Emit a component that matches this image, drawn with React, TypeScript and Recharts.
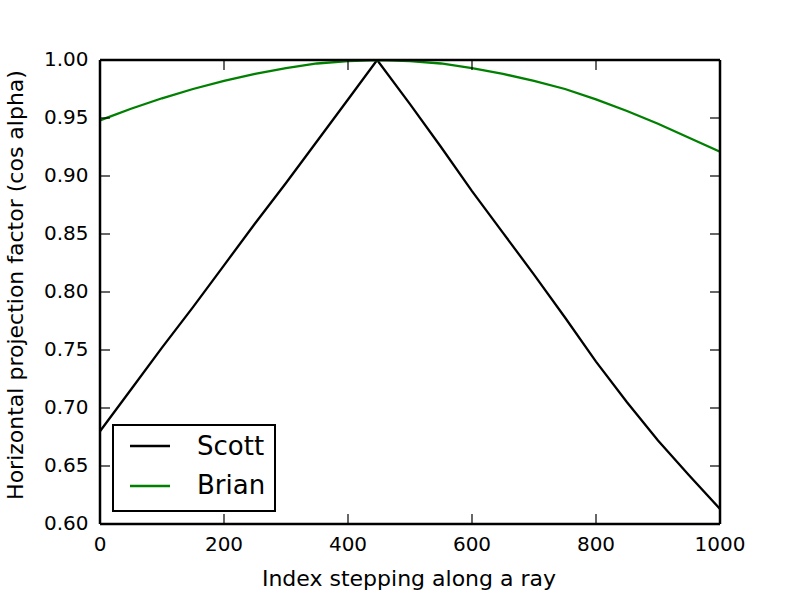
import React from "react";
import { LineChart, Line, XAxis, YAxis, Legend, Label } from "recharts";

const scottX = [0, 50, 100, 150, 200, 250, 300, 350, 400, 447, 500, 550, 600, 650, 700, 750, 800, 850, 900, 950, 1000];
const scottY = [0.68, 0.716, 0.752, 0.787, 0.823, 0.859, 0.894, 0.93, 0.966, 1.0, 0.962, 0.925, 0.887, 0.851, 0.815, 0.778, 0.74, 0.705, 0.672, 0.642, 0.613];

const brianX = [0, 50, 100, 150, 200, 250, 300, 350, 400, 450, 500, 550, 600, 650, 700, 750, 800, 850, 900, 950, 1000];
const brianY = [0.948, 0.958, 0.967, 0.975, 0.982, 0.988, 0.993, 0.997, 0.999, 1.0, 0.999, 0.997, 0.993, 0.988, 0.982, 0.975, 0.966, 0.956, 0.945, 0.933, 0.921];

const seriesOrder = ["Scott", "Brian"];
const xTicks = [0, 200, 400, 600, 800, 1000];
const yTicks = [0.6, 0.65, 0.7, 0.75, 0.8, 0.85, 0.9, 0.95, 1.0];

const scottData = scottX.map((x, i) => ({ x, y: scottY[i] }));
const brianData = brianX.map((x, i) => ({ x, y: brianY[i] }));

const FONT = "DejaVu Sans";
const TICK_LEN = 10;

const BottomTick = (props: any) => {
  const { x, y, payload } = props;
  return (
    <g>
      <line x1={x} x2={x} y1={y} y2={y - TICK_LEN} stroke="#000" strokeWidth={1.2} />
      <text x={x} y={y + 27} textAnchor="middle" fontSize={20} fontFamily={FONT} fill="#000">
        {payload.value}
      </text>
    </g>
  );
};

const TopTick = (props: any) => {
  const { x, y } = props;
  return <line x1={x} x2={x} y1={y} y2={y + TICK_LEN} stroke="#000" strokeWidth={1.2} />;
};

const LeftTick = (props: any) => {
  const { x, y, payload } = props;
  return (
    <g>
      <line x1={x} x2={x + TICK_LEN} y1={y} y2={y} stroke="#000" strokeWidth={1.2} />
      <text x={x - 11.5} y={y + 6} textAnchor="end" fontSize={20} fontFamily={FONT} fill="#000">
        {Number(payload.value).toFixed(2)}
      </text>
    </g>
  );
};

const RightTick = (props: any) => {
  const { x, y } = props;
  return <line x1={x} x2={x - TICK_LEN} y1={y} y2={y} stroke="#000" strokeWidth={1.2} />;
};

const LegendBox = (props: any) => {
  const payload = [...(props.payload || [])]
    .filter((e: any) => seriesOrder.includes(e.value))
    .sort((a: any, b: any) => seriesOrder.indexOf(a.value) - seriesOrder.indexOf(b.value));
  return (
    <svg width={164} height={88} style={{ display: "block" }}>
      <rect x={1} y={1} width={162} height={86} fill="#fff" stroke="#000" strokeWidth={2} />
      {payload.map((entry: any, i: number) => (
        <g key={i}>
          <line x1={18} x2={58} y1={22 + i * 40} y2={22 + i * 40} stroke={entry.color} strokeWidth={2.3} />
          <text x={85} y={31 + i * 39} fontSize={26} fontFamily={FONT} fill="#000">
            {entry.value}
          </text>
        </g>
      ))}
    </svg>
  );
};

export default function App() {
  return (
    <div style={{ position: "absolute", left: 0, top: 0, width: 800, height: 600, background: "#fff" }}>
      <LineChart width={800} height={600} margin={{ top: 59, right: 79, bottom: 0, left: 0 }}>
        <XAxis
          xAxisId={0}
          dataKey="x"
          type="number"
          domain={[0, 1000]}
          ticks={xTicks}
          interval={0}
          allowDataOverflow
          height={76}
          tickSize={0}
          tickMargin={0}
          tickLine={false}
          axisLine={{ stroke: "#000", strokeWidth: 2.5 }}
          tick={<BottomTick />}
        >
          <Label
            content={(p: any) => {
              const vb = p.viewBox;
              return (
                <text x={vb.x + vb.width / 2 - 1} y={vb.y + 62} textAnchor="middle" fontSize={22} fontFamily={FONT} fill="#000">
                  Index stepping along a ray
                </text>
              );
            }}
          />
        </XAxis>
        <XAxis
          xAxisId="top"
          orientation="top"
          dataKey="x"
          type="number"
          domain={[0, 1000]}
          ticks={xTicks}
          interval={0}
          allowDataOverflow
          height={1}
          tickSize={0}
          tickMargin={0}
          tickLine={false}
          axisLine={{ stroke: "#000", strokeWidth: 2.5 }}
          tick={<TopTick />}
        />
        <YAxis
          yAxisId={0}
          type="number"
          domain={[0.6, 1.0]}
          ticks={yTicks}
          interval={0}
          allowDataOverflow
          width={100}
          tickSize={0}
          tickMargin={0}
          tickLine={false}
          axisLine={{ stroke: "#000", strokeWidth: 2.5 }}
          tick={<LeftTick />}
        >
          <Label
            content={(p: any) => {
              const vb = p.viewBox;
              const cx = vb.x + 23;
              const cy = vb.y + vb.height / 2 - 7;
              return (
                <text x={cx} y={cy} transform={`rotate(-90, ${cx}, ${cy})`} textAnchor="middle" fontSize={22} fontFamily={FONT} fill="#000">
                  Horizontal projection factor (cos alpha)
                </text>
              );
            }}
          />
        </YAxis>
        <YAxis
          yAxisId="right"
          orientation="right"
          type="number"
          domain={[0.6, 1.0]}
          ticks={yTicks}
          interval={0}
          allowDataOverflow
          width={1}
          tickSize={0}
          tickMargin={0}
          tickLine={false}
          axisLine={{ stroke: "#000", strokeWidth: 2.5 }}
          tick={<RightTick />}
        />
        <Line
          data={scottData}
          dataKey="y"
          name="Scott"
          type="linear"
          stroke="#000000"
          strokeWidth={2.3}
          dot={false}
          isAnimationActive={false}
        />
        <Line
          data={brianData}
          dataKey="y"
          name="Brian"
          type="linear"
          stroke="#008000"
          strokeWidth={2.3}
          dot={false}
          isAnimationActive={false}
        />
        <Line
          data={scottData}
          dataKey="y"
          name="frame"
          xAxisId="top"
          yAxisId="right"
          type="linear"
          stroke="none"
          strokeWidth={0}
          dot={false}
          legendType="none"
          isAnimationActive={false}
        />
        <Legend
          layout="vertical"
          align="center"
          verticalAlign="middle"
          content={<LegendBox />}
          wrapperStyle={{ position: "absolute", left: 112, top: 424, width: 164, height: 88, margin: 0, padding: 0 }}
        />
      </LineChart>
    </div>
  );
}
